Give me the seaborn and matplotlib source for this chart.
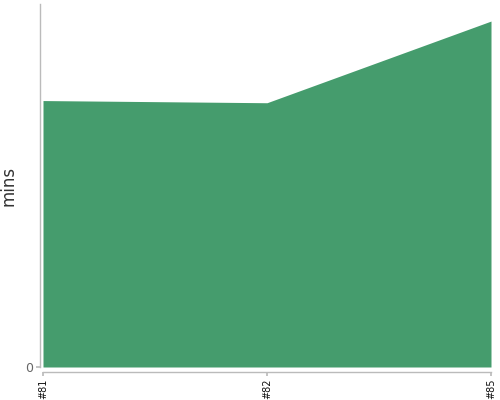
import matplotlib
matplotlib.use("Agg")
import matplotlib.pyplot as plt
import seaborn as sns
import pandas as pd

builds = ["#81", "#82", "#85"]
minutes = [73.4, 72.8, 95.3]

sns.set_theme(style="white")
plt.rcParams['font.family'] = ['DejaVu Sans']

df = pd.DataFrame({"build": builds, "mins": minutes})
df["pos"] = range(len(df))

fig = plt.figure(figsize=(5, 4), dpi=100)
ax = fig.add_axes([0.086, 0.0825, 0.896, 0.9075])
sns.lineplot(data=df, x="pos", y="mins", ax=ax, color="#459c6d", linewidth=0)
ax.fill_between(df["pos"], 0, df["mins"], color="#459c6d", linewidth=0)
ax.set_xlim(0, len(df) - 1)
ax.set_ylim(0, 100)
ax.set_xticks(df["pos"])
ax.set_xticklabels(builds)
ax.set_yticks([0])
ax.set_yticklabels(["0"])
ax.set_xlabel("")
ax.set_ylabel("mins", fontsize=12, color="#333333")
ax.yaxis.set_label_coords(-0.057, 0.5)
for s in ["top", "right"]:
    ax.spines[s].set_visible(False)
ax.spines["left"].set_position(("outward", 2))
ax.spines["bottom"].set_position(("outward", 3.5))
for s in ["left", "bottom"]:
    ax.spines[s].set_color("#bbbbbb")
    ax.spines[s].set_linewidth(1)
ax.tick_params(axis="x", bottom=True, length=3, color="#bbbbbb", pad=2,
               labelrotation=90, labelsize=7, labelcolor="#111111")
ax.tick_params(axis="y", left=True, length=3, color="#bbbbbb", pad=2,
               labelsize=9, labelcolor="#666666")
fig.savefig("out.png", dpi=100)
